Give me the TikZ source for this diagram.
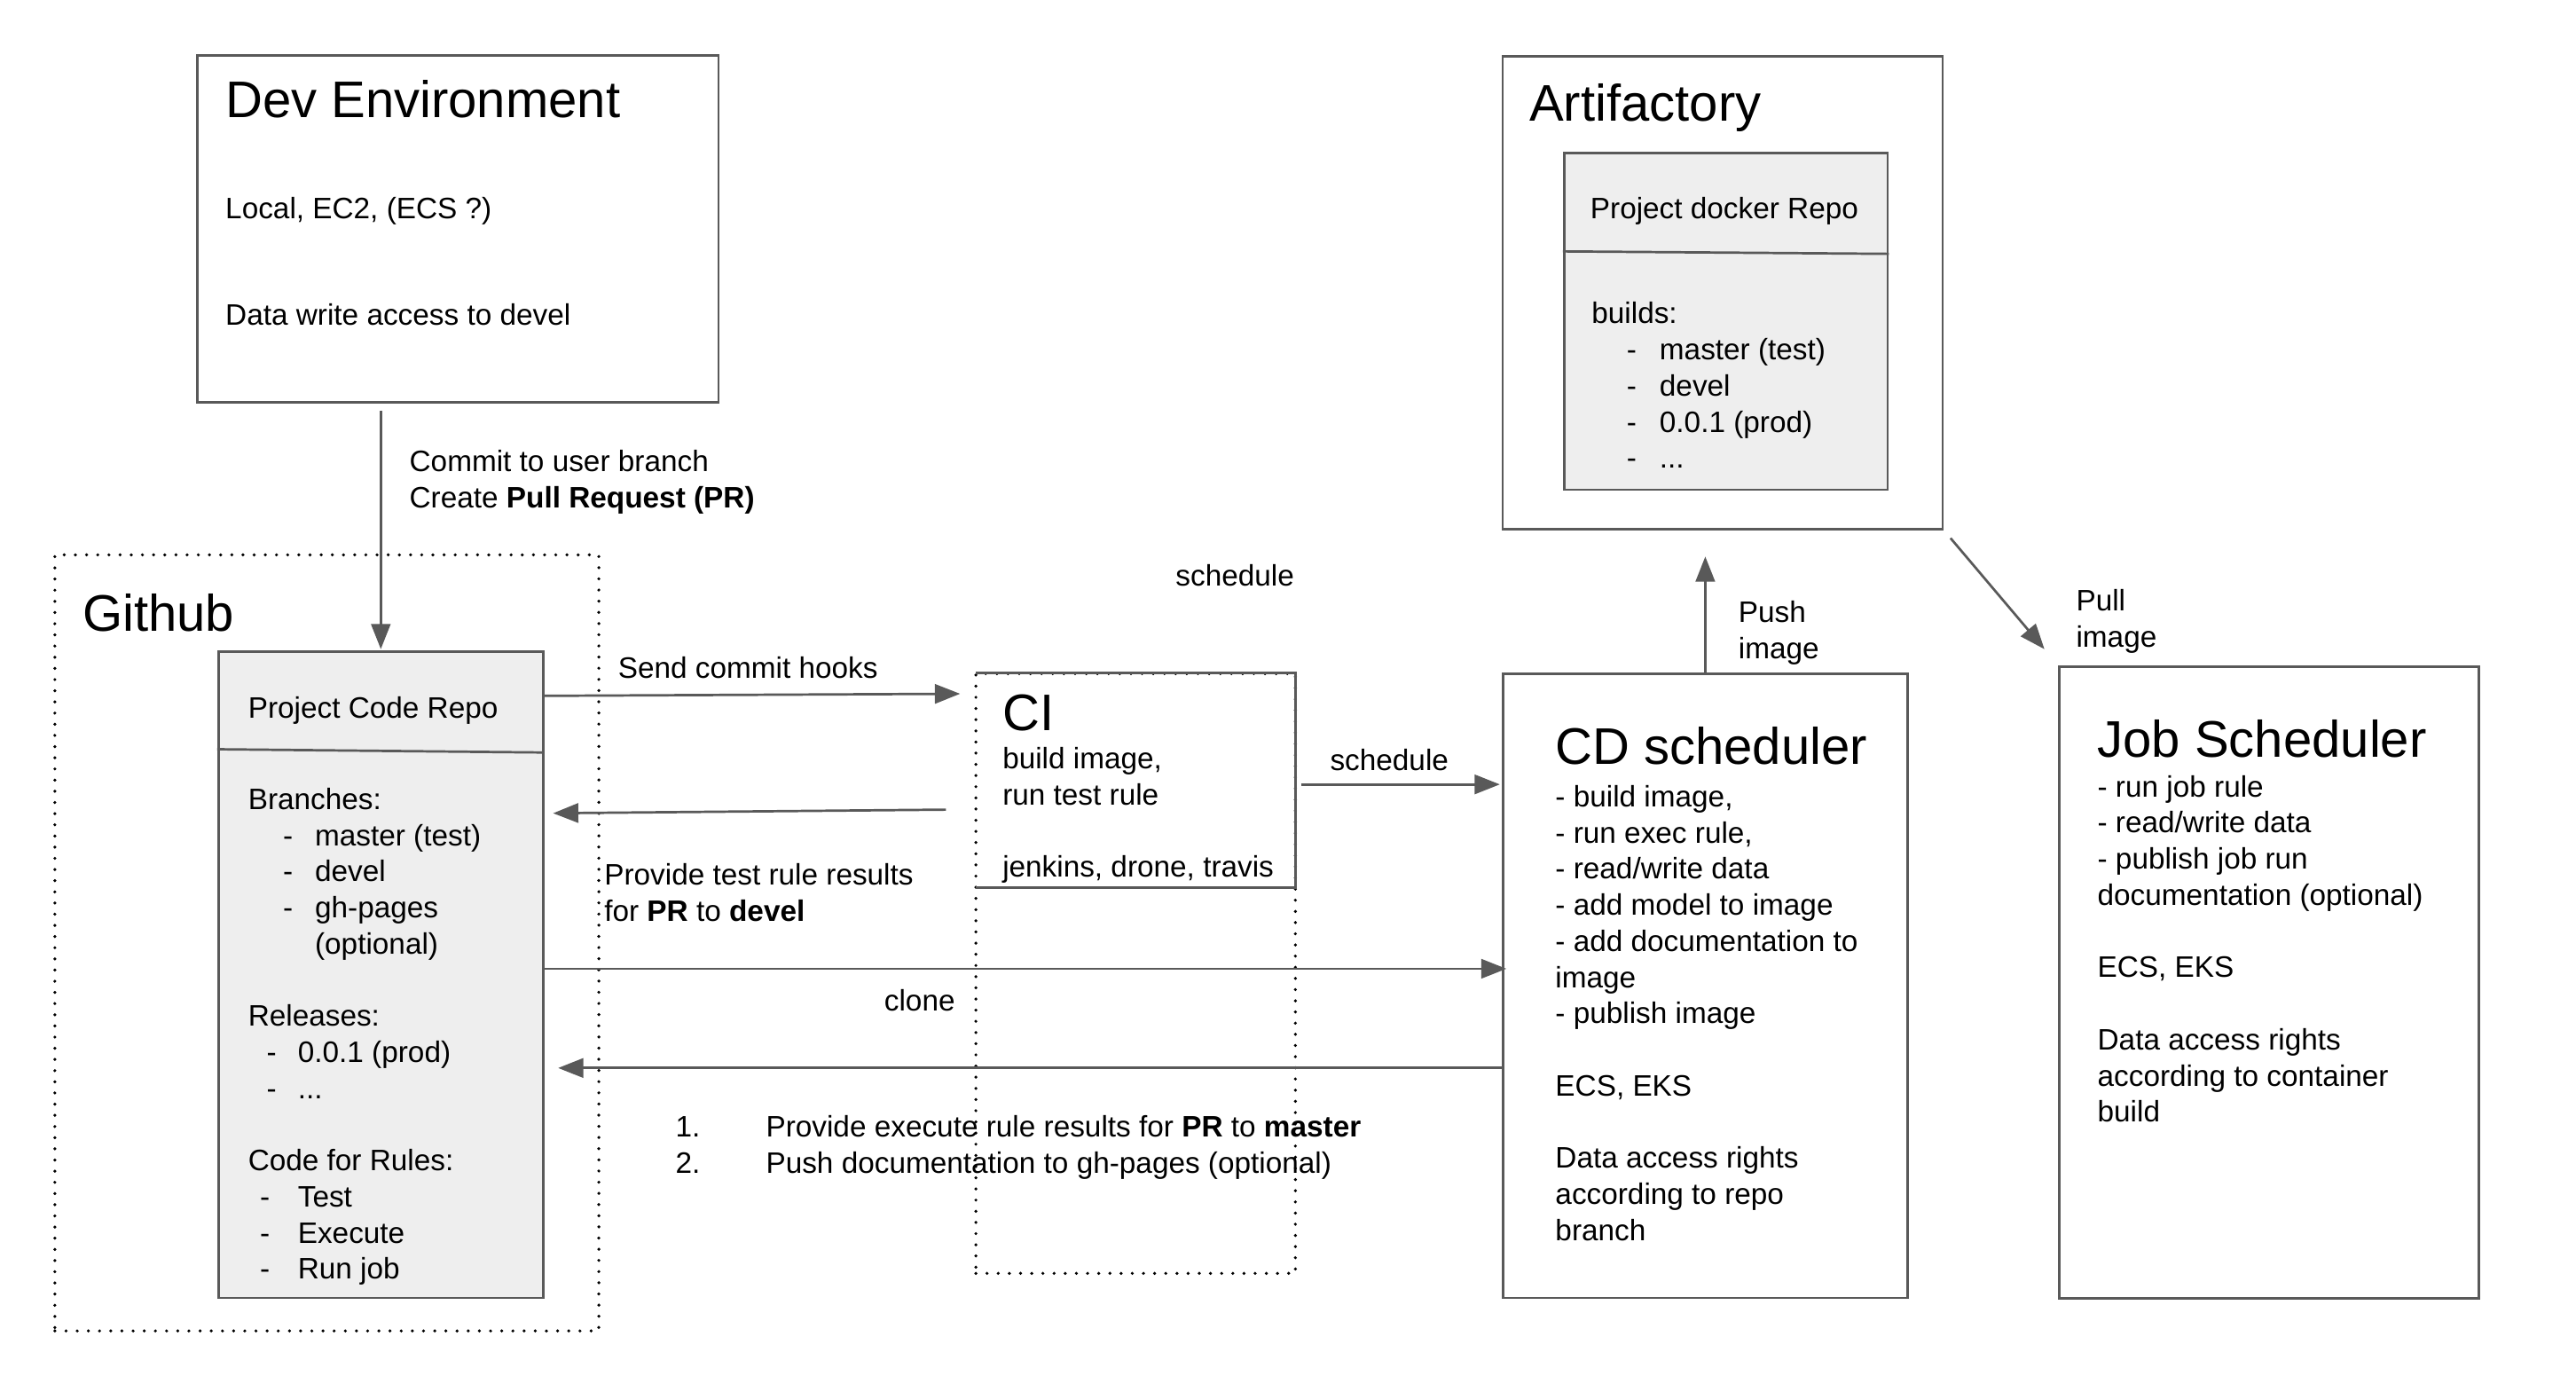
\documentclass[tikz,border=0pt]{standalone}
\usepackage{fontspec}
\setmainfont{Liberation Sans}
\usetikzlibrary{arrows.meta,fit}
\definecolor{linegray}{HTML}{595959}
\definecolor{repogray}{HTML}{EEEEEE}
\newcommand{\body}{\fontsize{13.5}{16.5}\selectfont}
\newcommand{\heading}{\fontsize{23.5}{28}\selectfont}
\newcommand{\rows}[1]{\begin{tabular}[t]{@{}l@{}}#1\end{tabular}}
\newcommand{\li}[3]{\hspace*{#1pt}\makebox[#2pt][l]{-}#3}
\tikzset{
  box/.style={draw=linegray, line width=1.1pt, inner sep=0pt},
  repobox/.style={box, fill=repogray},
  dotbox/.style={draw=black, line width=1.5pt, dash pattern=on 0pt off 5.1pt, line cap=round, inner sep=0pt},
  txt/.style={anchor=base west, inner sep=0pt, font=\body},
  title/.style={anchor=base west, inner sep=0pt, font=\heading},
  arrow/.style={draw=linegray, line width=1.1pt, -{Triangle[length=11.5pt, width=8.8pt]}}
}
\begin{document}
\begin{tikzpicture}[x=0.75pt, y=-0.75pt]
    \useasboundingbox (0,0) rectangle (1568,837);

    % boxes
    \node [box, fit={(120,33.6) (437.4,245)}] (DevEnv) {};
    \node [dotbox, fit={(33.4,337.7) (364.5,810)}] (Github) {};
    \node [repobox, fit={(133,396.6) (330.6,790)}] (CodeRepo) {};
    \node [inner sep=0pt, fit={(594,410) (788.5,540)}] (CI) {};
    \node [dotbox, fit={(594,410) (788.5,775)}] (CIColumn) {};
    \node [box, fit={(915,410) (1161,790)}] (CDScheduler) {};
    \node [box, fit={(914.7,34.4) (1182.5,322)}] (Artifactory) {};
    \node [repobox, fit={(952,93) (1149,298)}] (DockerRepo) {};
    \node [box, fit={(1253.6,405.8) (1508.9,790.3)}] (JobScheduler) {};

    \draw [box] (CI.north west) -- (CI.north east) -- (CI.south east) -- (CI.south west);
    \draw [box] (CodeRepo.west |- 0,456) -- (CodeRepo.east |- 0,458);
    \draw [box] (DockerRepo.west |- 0,153) -- (DockerRepo.east |- 0,154.5);

    % texts
    \node [title] (DevTitle) at (137,71.6) {Dev Environment};
    \node [txt] (DevHosts) at (137,133) {Local, EC2, (ECS ?)};
    \node [txt] (DevAccess) at (137,198) {Data write access to devel};

    \node [title] (GithubTitle) at (50,384) {Github};
    \node [txt] (CodeRepoTitle) at (150.8,437) {Project Code Repo};
    \node [txt] (CodeRepoBody) at (150.8,492.6) {\rows{Branches:\\
        \li{15.9}{14.6}{master (test)}\\
        \li{15.9}{14.6}{devel}\\
        \li{15.9}{14.6}{gh-pages}\\
        \hspace*{30.5pt}(optional)\\
        \\
        Releases:\\
        \li{8.4}{14.3}{0.0.1 (prod)}\\
        \li{8.4}{14.3}{...}\\
        \\
        Code for Rules:\\
        \li{5.4}{17.3}{Test}\\
        \li{5.4}{17.3}{Execute}\\
        \li{5.4}{17.3}{Run job}}};

    \node [title] (CITitle) at (610,444.6) {CI};
    \node [txt] (CIBody) at (610,468) {\rows{build image,\\ run test rule\\ \\ jenkins, drone, travis}};

    \node [title] (CDTitle) at (946.5,465.4) {CD scheduler};
    \node [txt] (CDBody) at (946.5,491) {\rows{- build image,\\
        - run exec rule,\\
        - read/write data\\
        - add model to image\\
        - add documentation to\\
        image\\
        - publish image\\
        \\
        ECS, EKS\\
        \\
        Data access rights\\
        according to repo\\
        branch}};

    \node [title] (ArtTitle) at (930.7,73.8) {Artifactory};
    \node [txt] (DockerRepoTitle) at (967.8,133) {Project docker Repo};
    \node [txt] (DockerRepoBody) at (968.6,197) {\rows{builds:\\
        \li{16}{15}{master (test)}\\
        \li{16}{15}{devel}\\
        \li{16}{15}{0.0.1 (prod)}\\
        \li{16}{15}{...}}};

    \node [title] (JobTitle) at (1276.5,460.6) {Job Scheduler};
    \node [txt] (JobBody) at (1276.5,485) {\rows{- run job rule\\
        - read/write data\\
        - publish job run\\
        documentation (optional)\\
        \\
        ECS, EKS\\
        \\
        Data access rights\\
        according to container\\
        build}};

    % connector labels
    \node [txt] (CommitLabel) at (249,287) {\rows{Commit to user branch\\ Create \textbf{Pull Request (PR)}}};
    \node [txt] (HooksLabel) at (376,412.6) {Send commit hooks};
    \node [txt] (TestLabel) at (367.6,538.5) {\rows{Provide test rule results\\ for \textbf{PR} to \textbf{devel}}};
    \node [txt] (CloneLabel) at (538,615) {clone};
    \node [txt] (ExecLabel) at (411,692) {\rows{\makebox[41.25pt][l]{1.}Provide execute rule results for \textbf{PR} to \textbf{master}\\
        \makebox[41.25pt][l]{2.}Push documentation to gh-pages (optional)}};
    \node [txt] (ScheduleNote) at (715.4,356.4) {schedule};
    \node [txt] (ScheduleLabel) at (809.4,468.7) {schedule};
    \node [txt] (PushLabel) at (1058,378.7) {\rows{Push\\ image}};
    \node [txt] (PullLabel) at (1263.5,371.7) {\rows{Pull\\ image}};

    % connectors
    \draw [arrow, shorten <=3pt, shorten >=0.6pt] (DevEnv.south -| CodeRepo.north) -- (CodeRepo.north);
    \draw [arrow, shorten >=7pt] (CodeRepo.east |- 0,423.5) -- (CI.west |- 0,422.2);
    \draw [arrow, shorten <=13.5pt, shorten >=4pt] (CI.west |- 0,492.6) -- (CodeRepo.east |- 0,495);
    \draw [arrow, shorten <=2.3pt, shorten >=1pt] (CI.east |- 0,477.4) -- (CDScheduler.west |- 0,477.4);
    \draw [arrow, shorten >=-2pt] (CodeRepo.east |- 0,589.6) -- (CDScheduler.west |- 0,589.6);
    \draw [arrow, shorten >=6.3pt] (CDScheduler.west |- 0,650) -- (CodeRepo.east |- 0,650);
    \draw [arrow, shorten >=12pt] (CDScheduler.north) -- (CDScheduler.north |- Artifactory.south);
    \draw [arrow, shorten <=4.7pt, shorten >=9.8pt] (Artifactory.south east) -- (JobScheduler.north west);
\end{tikzpicture}
\end{document}
